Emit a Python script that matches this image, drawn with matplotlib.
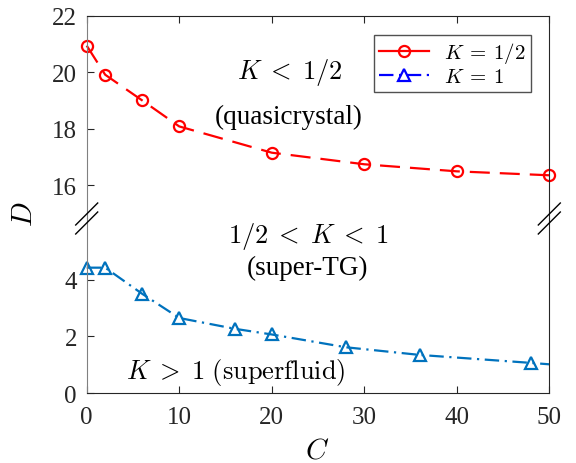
import numpy as np
import matplotlib
matplotlib.use('Agg')
import matplotlib.pyplot as plt
from matplotlib.lines import Line2D

plt.rcParams['font.family'] = ['Liberation Serif', 'DejaVu Serif']
plt.rcParams['mathtext.fontset'] = 'cm'

# K = 1/2 branch (upper panel)
c_half = [0, 2, 6, 10, 20, 30, 40, 50]
d_half = [20.94, 19.91, 19.0, 18.08, 17.15, 16.74, 16.49, 16.35]

# K = 1 branch (lower panel)
c_one = [0, 2, 6, 10, 16, 20, 28, 36, 48, 50]
d_one = [4.42, 4.42, 3.5, 2.65, 2.27, 2.07, 1.62, 1.35, 1.07, 1.02]

red = (1, 0, 0)
blue = (0, 0.447, 0.741)
spine_col = (0.15, 0.15, 0.15)
dash_red = (0, (9, 4.5))
dash_blue = (0, (6.5, 2.5, 1, 2.5))

W, H = 576, 464
fig = plt.figure(figsize=(W/100, H/100), dpi=100)

x0, x1 = 86.7/W, 549.3/W
y_top, y_brk, y_bot = 1-16.7/H, 1-219.5/H, 1-394.3/H

ax_t = fig.add_axes([x0, y_brk, x1-x0, y_top-y_brk])
ax_b = fig.add_axes([x0, y_bot, x1-x0, y_brk-y_bot])

ax_t.plot(c_half, d_half, color=red, ls=dash_red, lw=1.6, marker='o',
          ms=8, mfc='none', mew=1.6, clip_on=False)
ax_b.plot(c_one, d_one, color=blue, ls=dash_blue, lw=1.6, marker='^',
          ms=9, mfc='none', mew=1.6, markevery=list(range(9)), clip_on=False)

ax_t.set_ylim(14.82, 22)
ax_b.set_ylim(0, 6.15)
for ax in (ax_t, ax_b):
    ax.set_xlim(0, 50)
    ax.tick_params(direction='in', length=5, labelsize=18, colors=spine_col,
                   labelcolor=(0.15, 0.15, 0.15))
    ax.tick_params(axis='y', pad=7)
    ax.tick_params(axis='x', pad=9)
    for s in ax.spines.values():
        s.set_color(spine_col)
        s.set_linewidth(0.8)
ax_t.spines['left'].set_color((0.5, 0.5, 0.5))
ax_b.spines['left'].set_color((0.5, 0.5, 0.5))
ax_t.set_yticks([16, 18, 20, 22])
ax_b.set_yticks([0, 2, 4])
ax_t.spines['bottom'].set_visible(False)
ax_b.spines['top'].set_visible(False)
ax_t.tick_params(axis='x', bottom=False, top=True, labelbottom=False)
ax_b.tick_params(axis='x', top=False)
ax_t.set_xticks([0, 10, 20, 30, 40, 50])
ax_b.set_xticks([0, 10, 20, 30, 40, 50])
fig.text(317/W, 1-452/H, '$C$', fontsize=21, ha='center', va='center')
fig.text(25/W, 1-214/H, '$D$', fontsize=21, rotation=90, ha='center', va='center')

# break marks
for xb in (x0, x1):
    for dy in (-4.5, 4.5):
        yc = 219.5 + dy
        fig.add_artist(Line2D([xb - 11/W, xb + 11/W],
                              [1-(yc+11)/H, 1-(yc-11)/H],
                              color='k', lw=1.0, transform=fig.transFigure))

# region labels
fs = 19.5
fig.text(290/W, 1-72/H, r'$K \;<\; 1/2$', fontsize=19, ha='center', va='center')
fig.text(289/W, 1-117/H, '(quasicrystal)', fontsize=fs, ha='center', va='center')
fig.text(308/W, 1-237/H, r'$1/2 \;<\; K \;<\; 1$', fontsize=19, ha='center', va='center')
fig.text(307/W, 1-268/H, '(super-TG)', fontsize=fs, ha='center', va='center')
fig.text(236/W, 1-373/H, r'$K \;>\; 1\ \mathrm{(superfluid)}$', fontsize=19,
         ha='center', va='center')

handles = [Line2D([], [], color=red, ls='-', lw=1.6, marker='o', ms=8, mfc='none', mew=1.6),
           Line2D([], [], color=(0, 0, 1), ls=dash_blue, lw=1.6, marker='^', ms=9,
                  mfc='none', mew=1.6)]
ax_t.legend(handles, [r'$K \:=\: 1/2$', r'$K \:=\: 1$'], loc='upper right', fontsize=15,
            bbox_to_anchor=(0.96, 0.905), frameon=True, fancybox=False,
            edgecolor=spine_col, handlelength=2.4, borderpad=0.25,
            labelspacing=0.1, handletextpad=0.7, borderaxespad=0)

fig.savefig('out.png', dpi=100)
